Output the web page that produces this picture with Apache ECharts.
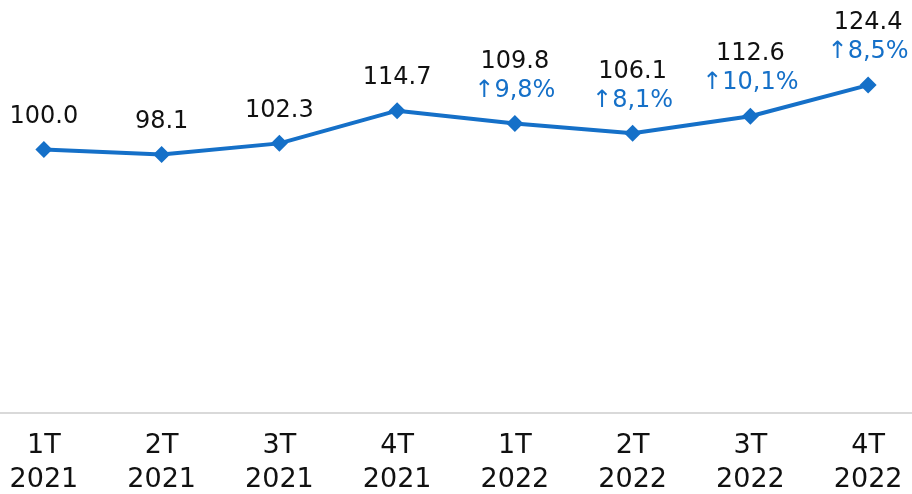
<!doctype html>
<html>
<head>
    <meta charset="utf-8">
    <title>Índice trimestral</title>
    <script src="https://cdn.jsdelivr.net/npm/echarts@6/dist/echarts.min.js"></script>
</head>
<style>
    html, body { margin: 0; padding: 0; background: #fff; }
    #chart { width: 912px; height: 494px; }
</style>
<body>
<div id="chart"></div>
<script>
  var quarters = ['1T\n2021', '2T\n2021', '3T\n2021', '4T\n2021', '1T\n2022', '2T\n2022', '3T\n2022', '4T\n2022'];
  var values = [100.0, 98.1, 102.3, 114.7, 109.8, 106.1, 112.6, 124.4];
  var growth = [null, null, null, null, '9,8%', '8,1%', '10,1%', '8,5%'];

  var blue = '#1570c8';
  var myChart = echarts.init(document.getElementById('chart'));

  var option = {
    animation: false,
    grid: { left: -15, right: -15, top: 44, bottom: 81, outerBoundsMode: 'none', containLabel: false },
    xAxis: {
      type: 'category',
      data: quarters,
      boundaryGap: true,
      axisLine: { lineStyle: { color: '#d9d9d9', width: 2 } },
      axisTick: { show: false },
      axisLabel: {
        color: '#111',
        fontFamily: 'DejaVu Sans',
        fontSize: 27,
        lineHeight: 34,
        margin: 16
      }
    },
    yAxis: {
      type: 'value',
      min: 0,
      max: 140,
      show: false,
      splitLine: { show: false }
    },
    series: [{
      type: 'line',
      data: values,
      symbol: 'diamond',
      symbolSize: 17,
      lineStyle: { color: blue, width: 4 },
      itemStyle: { color: blue },
      label: {
        show: true,
        position: 'top',
        distance: 10,
        formatter: function (p) {
          var v = '{v|' + values[p.dataIndex].toFixed(1) + '}';
          var g = growth[p.dataIndex];
          return g ? v + '\n{p|↑' + g + '}' : v;
        },
        rich: {
          v: { color: '#111', fontSize: 24, fontFamily: 'DejaVu Sans', lineHeight: 29 },
          p: { color: blue, fontSize: 24, fontFamily: 'DejaVu Sans', lineHeight: 29 }
        }
      }
    }]
  };

  myChart.setOption(option);
</script>
</body>
</html>
